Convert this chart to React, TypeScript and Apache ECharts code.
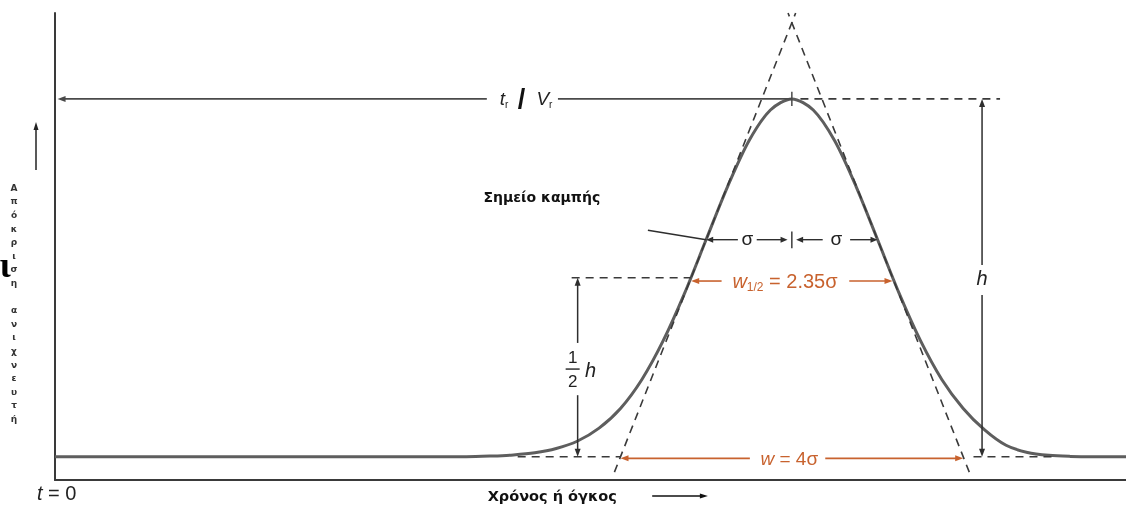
import { useEffect, useRef } from "react";
import * as echarts from "echarts";

// Elution profile: time in σ units, detector response in % of the peak height h
const elutionTime = [0, 4.8, 5.1, 5.35, 5.6, 5.85, 6.1, 6.35, 6.6, 6.85, 7.1, 7.35, 7.6, 7.85, 8.1, 8.35, 8.6, 8.85, 9.1, 9.35, 9.6, 9.85, 10.1, 10.35, 10.6, 10.85, 11.1, 11.35, 11.6, 11.85, 12.1, 12.5];
const detectorResponse = [0, 0, 0.2, 0.5, 1.1, 2.3, 4.4, 8.0, 13.5, 21.6, 32.5, 45.8, 60.7, 75.5, 88.3, 96.9, 100, 96.9, 88.3, 75.5, 60.7, 45.8, 32.5, 21.6, 13.5, 7.5, 3.2, 1.2, 0.4, 0.1, 0, 0];

// Peak parameters
const retentionTime = 8.6;
const sigma = 1;
const peakHeight = 100;
const halfWidthFactor = 2.35;
const baseWidthFactor = 4;

// Axis extents
const xMin = 0;
const xMax = 12.5;
const yMin = -6.5;
const yMax = 124;

// Texts
const yTitle = ["Α", "π", "ό", "κ", "ρ", "ι", "σ", "η", "", "α", "ν", "ι", "χ", "ν", "ε", "υ", "τ", "ή"];
const xTitle = "Χρόνος ή όγκος";
const inflectionLabel = "Σημείο καμπής";

const AXIS = "#3a3a3a";
const CURVE = "#5e5e5e";
const INK = "#2e2e2e";
const DASH = "#3a3a3a";
const ORANGE = "#c8622e";
const SANS = "'Liberation Sans', Arial, sans-serif";
const BOLD = "'DejaVu Sans', 'Liberation Sans', sans-serif";

export default function App() {
  const ref = useRef<HTMLDivElement>(null);

  useEffect(() => {
    const chart = echarts.init(ref.current!, null, { renderer: "svg" });
    const hiddenAxis = {
      type: "value",
      axisLine: { show: true, onZero: false, lineStyle: { color: AXIS, width: 2 } },
      axisTick: { show: false },
      axisLabel: { show: false },
      splitLine: { show: false },
    };
    chart.setOption({
      animation: false,
      grid: { left: 55, right: 0, top: 13, bottom: 26 },
      xAxis: { ...hiddenAxis, min: xMin, max: xMax },
      yAxis: { ...hiddenAxis, min: yMin, max: yMax },
      series: [
        {
          type: "line",
          data: elutionTime.map((t, i) => [t, detectorResponse[i]]),
          smooth: 0.3,
          symbol: "none",
          silent: true,
          lineStyle: { color: CURVE, width: 3 },
          z: 3,
        },
      ],
    });

    const P = (x: number, y: number) => chart.convertToPixel({ gridIndex: 0 }, [x, y]) as number[];
    const els: any[] = [];

    const line = (a: number[], b: number[], color: string, width: number, dash?: number[]) =>
      els.push({
        type: "line",
        silent: true,
        z: 10,
        shape: { x1: a[0], y1: a[1], x2: b[0], y2: b[1] },
        style: { stroke: color, lineWidth: width, lineDash: dash },
      });

    // line from `from` to `tip` ending in a filled arrow head
    const arrow = (from: number[], tip: number[], color: string, width = 1.5, len = 8, half = 3) => {
      const dx = tip[0] - from[0];
      const dy = tip[1] - from[1];
      const d = Math.hypot(dx, dy) || 1;
      const ux = dx / d;
      const uy = dy / d;
      const base = [tip[0] - ux * len, tip[1] - uy * len];
      line(from, [tip[0] - ux * (len - 2), tip[1] - uy * (len - 2)], color, width);
      els.push({
        type: "polygon",
        silent: true,
        z: 11,
        shape: {
          points: [
            tip,
            [base[0] - uy * half, base[1] + ux * half],
            [base[0] + uy * half, base[1] - ux * half],
          ],
        },
        style: { fill: color },
      });
    };

    const text = (x: number, y: number, style: any) =>
      els.push({ type: "text", x, y, silent: true, z: 12, style: { align: "center", verticalAlign: "middle", ...style } });

    const inflectionY = peakHeight * Math.exp(-0.5);
    const apexY = 2 * inflectionY;
    const footL = retentionTime - (baseWidthFactor / 2) * sigma;
    const footR = retentionTime + (baseWidthFactor / 2) * sigma;
    const halfL = retentionTime - (halfWidthFactor / 2) * sigma;
    const halfR = retentionTime + (halfWidthFactor / 2) * sigma;
    const dash = [8, 6];

    // tangents through the inflection points
    const tanX = (y: number, side: number) => retentionTime + side * (baseWidthFactor / 2) * sigma * (1 - y / apexY);
    line(P(tanX(-4.3, -1), -4.3), P(tanX(yMax, -1), yMax), DASH, 1.6, dash);
    line(P(tanX(-4.3, 1), -4.3), P(tanX(yMax, 1), yMax), DASH, 1.6, dash);

    // dashed guides: peak level, half height, baseline
    line(P(retentionTime + 0.1, peakHeight), P(11.03, peakHeight), DASH, 1.6, dash);
    line(P(6.03, peakHeight / 2), P(halfL, peakHeight / 2), DASH, 1.6, dash);
    line(P(5.4, 0), P(footL, 0), DASH, 1.6, dash);
    line(P(10.72, 0), P(11.65, 0), DASH, 1.6, dash);

    // retention time / volume arrow
    const trGapL = 5.04;
    const trGapR = 5.87;
    arrow(P(trGapL, peakHeight), P(0.03, peakHeight), "#4a4a4a", 1.6);
    line(P(trGapR, peakHeight), P(retentionTime, peakHeight), "#4a4a4a", 1.6);
    line(P(retentionTime, peakHeight + 2), P(retentionTime, peakHeight - 2), "#4a4a4a", 1.5);
    const trC = P((trGapL + trGapR) / 2, peakHeight);
    const subRich = {
      i: { fontFamily: SANS, fontStyle: "italic", fontSize: 19, lineHeight: 22, verticalAlign: "middle", fill: "#222" },
      s: { fontFamily: SANS, fontSize: 10, lineHeight: 10, verticalAlign: "bottom", fill: "#222" },
    };
    text(trC[0] - 14, trC[1], { align: "right", text: "{i|t}{s|r}", rich: subRich });
    text(trC[0] - 1, trC[1], { text: "/", fontFamily: SANS, fontWeight: "bold", fontSize: 27, fill: "#111" });
    text(trC[0] + 14, trC[1], { align: "left", text: "{i|V}{s|r}", rich: subRich });

    // peak height h
    const hX = 10.82;
    arrow(P(hX, 53.6), P(hX, peakHeight), INK);
    arrow(P(hX, 45.2), P(hX, 0), INK);
    const hC = P(hX, peakHeight / 2);
    text(hC[0], hC[1], { text: "h", fontFamily: SANS, fontStyle: "italic", fontSize: 20, fill: "#222" });

    // half height ½h
    const halfX = 6.1;
    arrow(P(halfX, 31.8), P(halfX, peakHeight / 2), INK);
    arrow(P(halfX, 17.2), P(halfX, 0), INK);
    const fC = P(halfX, 24.5);
    text(fC[0] - 5, fC[1] - 12, { text: "1", fontFamily: SANS, fontSize: 17, fill: "#222" });
    line([fC[0] - 12, fC[1]], [fC[0] + 2, fC[1]], "#222", 1.4);
    text(fC[0] - 5, fC[1] + 12, { text: "2", fontFamily: SANS, fontSize: 17, fill: "#222" });
    text(fC[0] + 13, fC[1] + 1, { text: "h", fontFamily: SANS, fontStyle: "italic", fontSize: 20, fill: "#222" });

    // σ on each side of the peak at the inflection height
    const sigFont = { fontFamily: SANS, fontSize: 19, fill: "#222" };
    arrow(P(7.97, inflectionY), P(retentionTime - sigma, inflectionY), INK, 1.4, 7, 3);
    arrow(P(8.19, inflectionY), P(retentionTime - 0.05, inflectionY), INK, 1.4, 7, 3);
    arrow(P(8.96, inflectionY), P(retentionTime + 0.05, inflectionY), INK, 1.4, 7, 3);
    arrow(P(9.28, inflectionY), P(retentionTime + sigma, inflectionY), INK, 1.4, 7, 3);
    line(P(retentionTime, inflectionY + 2.3), P(retentionTime, inflectionY - 2.4), INK, 1.4);
    const s1 = P(8.08, inflectionY);
    const s2 = P(9.12, inflectionY);
    text(s1[0], s1[1] - 1, { text: "σ", ...sigFont });
    text(s2[0], s2[1] - 1, { text: "σ", ...sigFont });

    // inflection point label and leader
    line(P(6.92, 63.3), P(retentionTime - sigma, inflectionY), INK, 1.5);
    const lab = P(5.0, 72.5);
    text(lab[0], lab[1], { align: "left", text: inflectionLabel, fontFamily: BOLD, fontWeight: "bold", fontSize: 14, fill: "#111" });

    // width at half height
    const whY = 49.1;
    arrow(P(7.78, whY), P(halfL, whY), ORANGE, 1.6);
    arrow(P(9.27, whY), P(halfR, whY), ORANGE, 1.6);
    const whC = P(8.52, whY);
    text(whC[0], whC[1], {
      text: "{w|w}{s|1/2}{n| = 2.35σ}",
      rich: {
        w: { fontFamily: SANS, fontStyle: "italic", fontSize: 20, lineHeight: 24, verticalAlign: "middle", fill: ORANGE },
        s: { fontFamily: SANS, fontSize: 12, lineHeight: 12, verticalAlign: "bottom", fill: ORANGE },
        n: { fontFamily: SANS, fontSize: 20, lineHeight: 24, verticalAlign: "middle", fill: ORANGE },
      },
    });

    // base width
    const wY = -0.45;
    arrow(P(8.11, wY), P(footL, wY), ORANGE, 1.6);
    arrow(P(8.99, wY), P(footR, wY), ORANGE, 1.6);
    const wC = P(8.57, wY);
    text(wC[0], wC[1], {
      text: "{w|w}{n| = 4σ}",
      rich: {
        w: { fontFamily: SANS, fontStyle: "italic", fontSize: 19, fill: ORANGE },
        n: { fontFamily: SANS, fontSize: 19, fill: ORANGE },
      },
    });

    // axis captions
    const origin = P(xMin, yMin);
    text(origin[0] - 18, origin[1] + 13, {
      align: "left",
      text: "{i|t}{n| = 0}",
      rich: {
        i: { fontFamily: SANS, fontStyle: "italic", fontSize: 20, fill: "#222" },
        n: { fontFamily: SANS, fontSize: 20, fill: "#222" },
      },
    });
    const xt = P(5.05, yMin);
    text(xt[0], origin[1] + 16, { align: "left", text: xTitle, fontFamily: BOLD, fontWeight: "bold", fontSize: 14.5, fill: "#111" });
    arrow([P(6.97, yMin)[0], origin[1] + 16], [P(7.62, yMin)[0], origin[1] + 16], "#111", 1.6, 8, 2.5);

    // vertical response caption
    text(origin[0] - 41, 181, {
      verticalAlign: "top",
      text: yTitle.join("\n"),
      fontFamily: BOLD,
      fontWeight: "bold",
      fontSize: 9,
      lineHeight: 13.6,
      fill: "#333",
    });
    arrow([origin[0] - 19, 170], [origin[0] - 19, 122], "#222", 1.5, 8, 2.5);
    text(5, 265, { text: "ι", fontFamily: "'Liberation Serif', serif", fontWeight: "bold", fontSize: 36, fill: "#000" });

    chart.setOption({ graphic: els });

    return () => chart.dispose();
  }, []);

  return <div ref={ref} style={{ position: "fixed", left: 0, top: 0, width: 1126, height: 506 }} />;
}
